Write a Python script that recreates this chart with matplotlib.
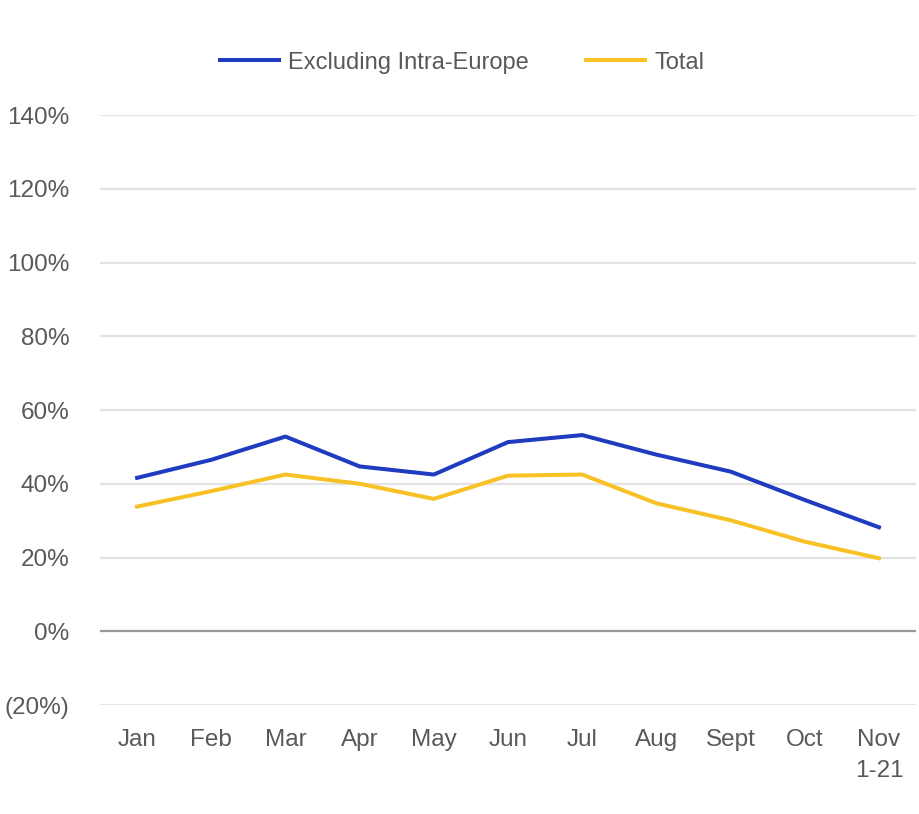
import numpy as np
import matplotlib
matplotlib.use('Agg')
import matplotlib.pyplot as plt

months = ['Jan', 'Feb', 'Mar', 'Apr', 'May', 'Jun', 'Jul', 'Aug', 'Sept', 'Oct', 'Nov\n1-21']
excl_intra_europe = [41.6, 46.5, 52.8, 44.7, 42.5, 51.3, 53.2, 47.9, 43.3, 35.6, 28.2]
total = [33.8, 38.0, 42.5, 40.0, 35.9, 42.2, 42.5, 34.7, 30.1, 24.3, 19.8]
yticks = [-20, 0, 20, 40, 60, 80, 100, 120, 140]
ytick_labels = ['(20%)', '0%', '20%', '40%', '60%', '80%', '100%', '120%', '140%']

plt.rcParams['font.family'] = ['Liberation Sans', 'DejaVu Sans']
txt = '#595959'

fig = plt.figure(figsize=(9.2, 8.14), dpi=100)
ax = fig.add_axes([0.1087, 0.1339, 0.887, 0.7248])

x = np.arange(len(months))
ax.plot(x, excl_intra_europe, color='#1f3bc0', linewidth=2.9, label='Excluding Intra-Europe', zorder=3)
ax.plot(x, total, color='#f8c126', linewidth=2.9, label='Total', zorder=3)

ax.set_xlim(-0.5, len(months) - 0.5)
ax.set_ylim(-20, 140)
ax.set_yticks(yticks)
ax.set_yticklabels(ytick_labels)
ax.set_xticks(x)
ax.set_xticklabels(months, linespacing=1.55)
ax.tick_params(axis='both', length=0, labelsize=17.5, colors=txt)
ax.tick_params(axis='y', pad=22)
ax.tick_params(axis='x', pad=17)

for v in yticks:
    if v == 0:
        ax.axhline(v, color='#999999', linewidth=1.6, zorder=2)
    else:
        ax.axhline(v, color='#e3e3e3', linewidth=1.6, zorder=1)

for s in ax.spines.values():
    s.set_visible(False)

leg = fig.legend(loc='center', bbox_to_anchor=(0.502, 0.923), ncol=2, frameon=False,
                 fontsize=17, handlelength=2.5, columnspacing=2.4, handletextpad=0.4)
for t in leg.get_texts():
    t.set_color(txt)

fig.savefig('out.png', dpi=100)
